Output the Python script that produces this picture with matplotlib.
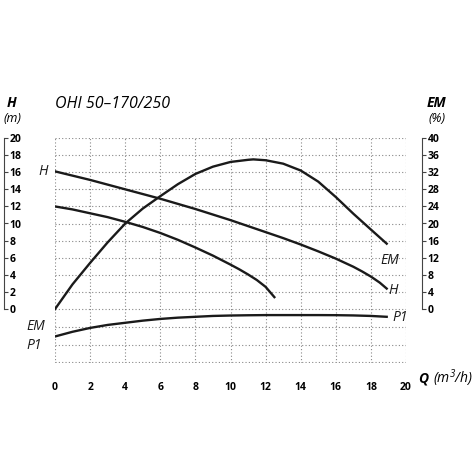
import matplotlib
matplotlib.use("Agg")
import matplotlib.pyplot as plt

plt.rcParams['font.family'] = ['Open Sans', 'DejaVu Sans']

q_h = [0, 1, 2, 3, 4, 5, 6, 7, 8, 9, 10, 11, 12, 13, 14, 15, 16, 17, 17.5, 18, 18.5, 18.9]
h_top = [16.1, 15.6, 15.1, 14.55, 14.0, 13.45, 12.9, 12.3, 11.7, 11.05, 10.4, 9.7, 9.0, 8.3, 7.55, 6.75, 5.9, 4.95, 4.4, 3.8, 3.1, 2.4]
q_h2 = [0, 1, 2, 3, 4, 5, 6, 7, 8, 9, 10, 10.5, 11, 11.5, 12, 12.5]
h_low = [12.0, 11.65, 11.2, 10.75, 10.2, 9.6, 8.9, 8.1, 7.2, 6.25, 5.2, 4.65, 4.05, 3.4, 2.6, 1.4]
q_em = [0, 1, 2, 3, 4, 5, 6, 7, 8, 9, 10, 11, 11.3, 12, 13, 14, 15, 16, 17, 18, 18.9]
em = [0, 5.8, 10.8, 15.6, 20.0, 23.5, 26.4, 29.2, 31.6, 33.3, 34.4, 34.9, 35.0, 34.8, 34.0, 32.4, 29.8, 26.2, 22.3, 18.6, 15.3]
q_p1 = [0, 1, 2, 3, 4, 5, 6, 7, 8, 9, 10, 11, 12, 13, 14, 15, 16, 17, 18, 18.9]
p1 = [-3.2, -2.65, -2.2, -1.85, -1.6, -1.35, -1.15, -1.0, -0.9, -0.8, -0.75, -0.72, -0.7, -0.7, -0.7, -0.7, -0.71, -0.74, -0.8, -0.9]
x_ticks = list(range(0, 21, 2))
h_ticks = list(range(0, 21, 2))
em_ticks = list(range(0, 41, 4))

W = 475
fig = plt.figure(figsize=(4.75, 4.75), dpi=100)
ax = fig.add_axes([55/W, 1-363/W, (406-55)/W, (363-138)/W])
ax.set_xlim(0, 20)
ax.set_ylim(-6.3, 20)
for s in ax.spines.values():
    s.set_visible(False)
ax.set_xticks(x_ticks)
ax.set_yticks([-6.2, -4.2, -2.1] + h_ticks)
ax.grid(True, color='#888888', linestyle=(0, (1, 2)), linewidth=0.8)
ax.tick_params(left=False, labelleft=False, bottom=False, labelbottom=True, pad=10, labelsize=7.5)
for t in ax.get_xticklabels():
    t.set_fontweight('bold')

lw = 1.7
ax.plot(q_h, h_top, color='#1a1a1a', lw=lw)
ax.plot(q_h2, h_low, color='#1a1a1a', lw=lw)
ax.plot(q_em, [e/2 for e in em], color='#1a1a1a', lw=lw)
ax.plot(q_p1, p1, color='#1a1a1a', lw=lw)

lab = dict(fontsize=10, style='italic', color='#1a1a1a', clip_on=False)
ax.text(-0.4, 16.1, 'H', ha='right', va='center', **lab)
ax.text(19.0, 2.2, 'H', ha='left', va='center', **lab)
ax.text(19.6, 5.7, 'EM', ha='right', va='center', **lab)
ax.text(-1.6, -2.0, 'EM', ha='left', va='center', **lab)
ax.text(-1.6, -4.2, 'P1', ha='left', va='center', **lab)
ax.text(19.2, -1.0, 'P1', ha='left', va='center', **lab)
ax.text(20.7, -8.1, 'Q', ha='left', va='center', fontsize=10, fontweight='bold', style='italic', clip_on=False)
ax.text(21.55, -8.1, '(m$^{\\mathregular{3}}$/h)', ha='left', va='center', fontsize=10, style='italic', clip_on=False)

def scale_axis(x_px, ymax, ticks):
    a = fig.add_axes([x_px/W, 1-309/W, 0.0001, (309-138)/W])
    a.set_ylim(0, ymax)
    a.set_yticks(ticks)
    for k in ['left', 'top', 'bottom']:
        a.spines[k].set_visible(False)
    a.spines['right'].set_color('#444444')
    a.yaxis.tick_right()
    a.tick_params(axis='y', direction='out', length=3, labelsize=7.5, pad=1, color='#444444')
    a.tick_params(axis='x', bottom=False, labelbottom=False)
    for t in a.get_yticklabels():
        t.set_fontweight('bold')
    return a

scale_axis(4, 20, h_ticks)
scale_axis(422, 40, em_ticks)

fig.text(12/W, 1-103/W, 'H', fontsize=10, fontweight='bold', style='italic', ha='center', va='center')
fig.text(12/W, 1-118/W, '(m)', fontsize=9, style='italic', ha='center', va='center')
fig.text(437/W, 1-103/W, 'EM', fontsize=10, fontweight='bold', style='italic', ha='center', va='center')
fig.text(437/W, 1-118/W, '(%)', fontsize=9, style='italic', ha='center', va='center')
fig.text(55/W, 1-104/W, 'OHI 50–170/250', fontsize=11.5, style='italic', ha='left', va='center')

fig.savefig('out.png', dpi=100)
